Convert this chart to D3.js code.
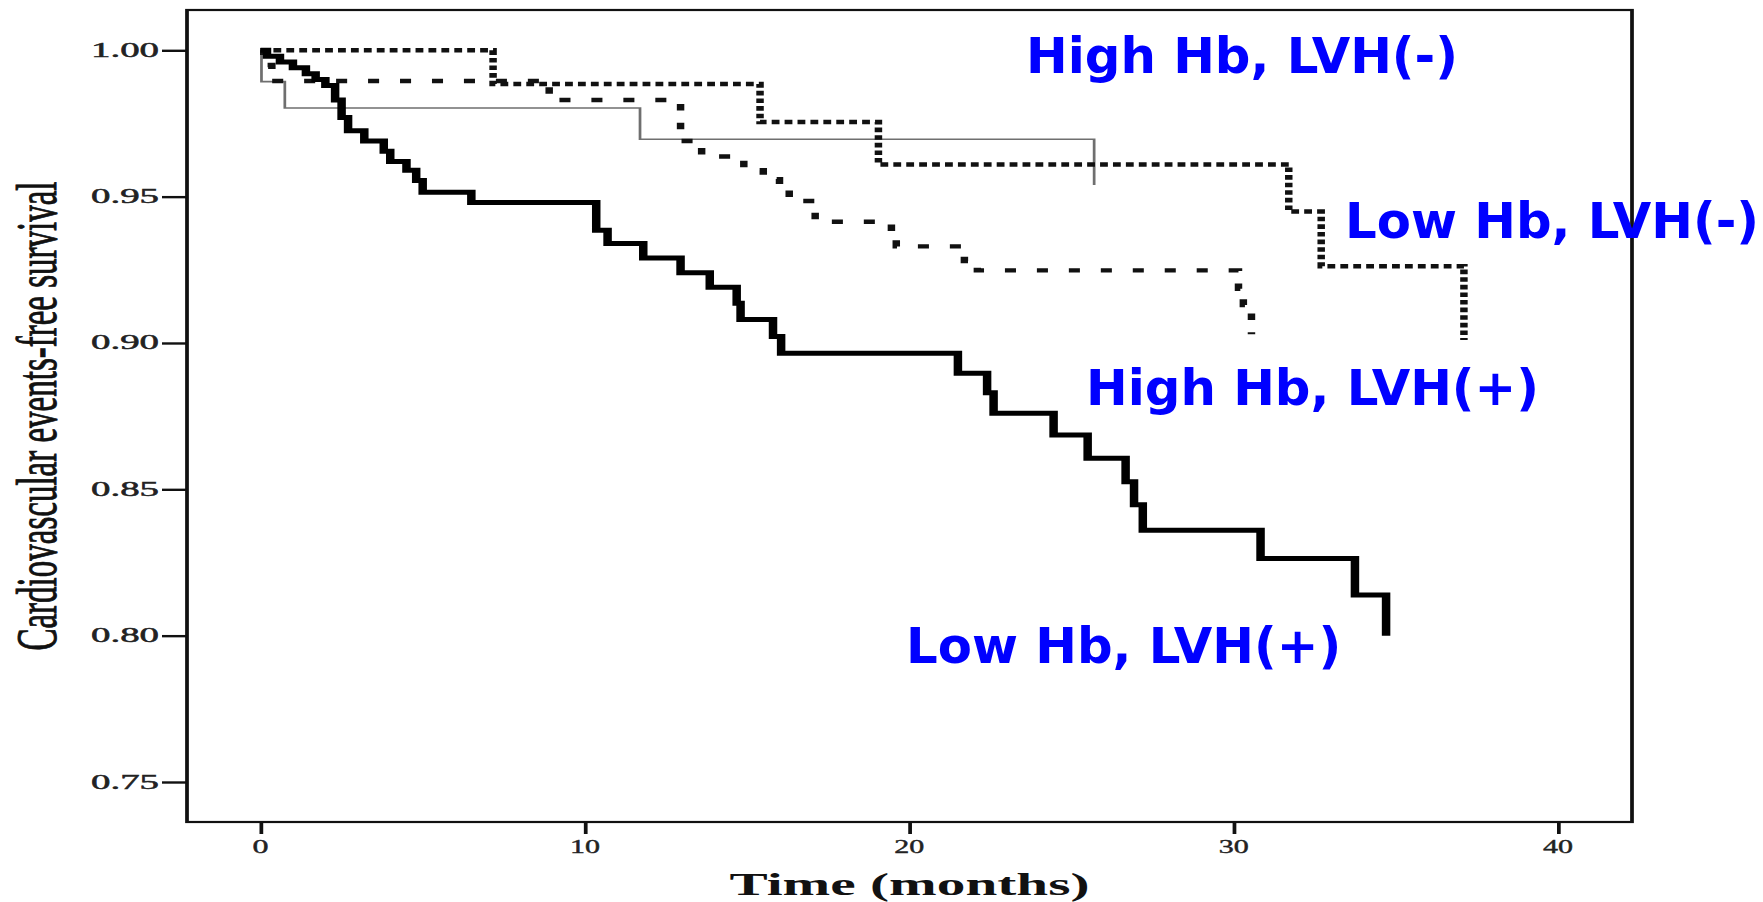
<!DOCTYPE html>
<html>
<head>
<meta charset="utf-8">
<script src="https://cdn.jsdelivr.net/npm/d3@7"></script>
<style>
  html, body { margin: 0; padding: 0; background: #fff; }
  svg { display: block; }
</style>
</head>
<body>
<svg id="chart" width="1763" height="902"></svg>
<script>
// Kaplan–Meier style survival curves: time (months) vs. event-free survival

const timeTicks = [0, 10, 20, 30, 40];
const survivalTicks = [0.75, 0.80, 0.85, 0.90, 0.95, 1.00];

// Low Hb, LVH(+)  — thick solid
const lowPosTime = [0, 0.2, 0.6, 1.0, 1.4, 1.7, 2.0, 2.3, 2.5, 2.7, 3.2, 3.8, 4.0, 4.5, 4.8, 5.0, 6.5,
  10.35, 10.7, 11.8, 12.95, 13.85, 14.68, 14.8, 15.8, 16.05, 21.5, 22.4, 22.6, 24.45, 25.5,
  26.67, 26.93, 27.2, 30.83, 33.74, 34.7];
const lowPosSurv = [1.0, 0.998, 0.996, 0.994, 0.992, 0.990, 0.988, 0.983, 0.977, 0.9725, 0.969, 0.9655, 0.962, 0.959, 0.9555, 0.9515, 0.948,
  0.9385, 0.934, 0.929, 0.924, 0.919, 0.9136, 0.908, 0.9022, 0.8965, 0.8897, 0.883, 0.876, 0.8686, 0.8606,
  0.8526, 0.8447, 0.836, 0.8264, 0.8139, 0.800];

// High Hb, LVH(+)  — sparse dashes
const highPosTime = [0, 0.1, 0.35, 8.9, 12.95, 13.6, 14.9, 15.5, 16.0, 16.3, 17.1, 19.45, 19.6, 21.7, 22.1, 30.15, 30.3, 30.55];
const highPosSurv = [1.0, 0.995, 0.9895, 0.983, 0.969, 0.9637, 0.959, 0.956, 0.953, 0.9485, 0.9414, 0.9375, 0.933, 0.928, 0.9248, 0.9185, 0.913, 0.903];

// Low Hb, LVH(-)  — dense dots
const lowNegTime = [0, 7.17, 15.4, 19.05, 31.7, 32.7, 37.1];
const lowNegSurv = [1.0, 0.9885, 0.9755, 0.961, 0.9449, 0.9262, 0.901];

// High Hb, LVH(-)  — thin grey
const highNegTime = [0, 0.03, 0.75, 11.7, 25.7];
const highNegSurv = [1.0, 0.9893, 0.9803, 0.9696, 0.954];

const seriesNames = ["Low Hb, LVH(+)", "High Hb, LVH(+)", "Low Hb, LVH(-)", "High Hb, LVH(-)"];

// ---------------------------------------------------------------------------
const svg = d3.select("#chart");
const SX = 1.7;                // horizontal stretch of the plotting graphics
const frame = { left: 187, right: 1632, top: 10, bottom: 822 };

const xFull = d3.scaleLinear().domain([0, 40]).range([260.5, 1558]);
const xLocal = d3.scaleLinear().domain([0, 40]).range([260.5 / SX, 1558 / SX]);
const y = d3.scaleLinear().domain([0.75, 1.00]).range([782, 50.3]);

const plot = svg.append("g").attr("transform", `scale(${SX},1)`);

// frame box
plot.append("rect")
  .attr("x", frame.left / SX).attr("y", frame.top)
  .attr("width", (frame.right - frame.left) / SX)
  .attr("height", frame.bottom - frame.top)
  .attr("fill", "none").attr("stroke", "#111").attr("stroke-width", 2.2);

// y axis ticks
const yAxis = d3.axisLeft(y).tickValues(survivalTicks).tickSize(25 / SX).tickFormat("");
const yAxisG = plot.append("g").attr("transform", `translate(${frame.left / SX},0)`).call(yAxis);
yAxisG.select(".domain").remove();
yAxisG.selectAll(".tick line").attr("stroke", "#111").attr("stroke-width", 2.4);

// x axis ticks
const xAxis = d3.axisBottom(xLocal).tickValues(timeTicks).tickSize(12).tickFormat("");
const xAxisG = plot.append("g").attr("transform", `translate(0,${frame.bottom})`).call(xAxis);
xAxisG.select(".domain").remove();
xAxisG.selectAll(".tick line").attr("stroke", "#111").attr("stroke-width", 2.2);

// tick labels
const fmt = d3.format(".2f");
svg.append("g").selectAll("text").data(survivalTicks).join("text")
  .attr("x", 91).attr("y", d => y(d) + 6.5)
  .attr("textLength", 68).attr("lengthAdjust", "spacingAndGlyphs")
  .attr("font-family", "Liberation Serif, serif").attr("font-size", 20)
  .attr("fill", "#222").attr("stroke", "#222").attr("stroke-width", 0.5)
  .text(d => fmt(d));

svg.append("g").selectAll("text").data(timeTicks).join("text")
  .attr("x", d => xFull(d)).attr("y", 853)
  .attr("text-anchor", "middle")
  .attr("textLength", d => String(d).length === 1 ? 16 : 30)
  .attr("lengthAdjust", "spacingAndGlyphs")
  .attr("font-family", "Liberation Serif, serif").attr("font-size", 19)
  .attr("fill", "#222").attr("stroke", "#222").attr("stroke-width", 0.4)
  .text(d => d);

// axis titles
svg.append("text")
  .attr("x", (frame.left + frame.right) / 2).attr("y", 895)
  .attr("text-anchor", "middle")
  .attr("textLength", 360).attr("lengthAdjust", "spacingAndGlyphs")
  .attr("font-family", "Liberation Serif, serif").attr("font-weight", "bold").attr("font-size", 32)
  .attr("fill", "#111")
  .text("Time (months)");

svg.append("text")
  .attr("transform", `translate(56,${(frame.top + frame.bottom) / 2}) rotate(-90) scale(1,${SX})`)
  .attr("text-anchor", "middle")
  .attr("font-family", "Liberation Serif, serif").attr("font-size", 33)
  .attr("fill", "#111").attr("stroke", "#111").attr("stroke-width", 0.6)
  .text("Cardiovascular events-free survival");

// survival curves
const series = [
  { name: seriesNames[3], t: highNegTime, s: highNegSurv, color: "#6f6f6f", width: 1.6, dash: null },
  { name: seriesNames[2], t: lowNegTime, s: lowNegSurv, color: "#111", width: 4.4, dash: "4.6,3" },
  { name: seriesNames[1], t: highPosTime, s: highPosSurv, color: "#111", width: 4.4, dash: "6.5,12.3" },
  { name: seriesNames[0], t: lowPosTime, s: lowPosSurv, color: "#000", width: 5, dash: null }
];

const line = d3.line()
  .x(d => xLocal(d[0]))
  .y(d => y(d[1]))
  .curve(d3.curveStepAfter);

plot.append("g").selectAll("path").data(series).join("path")
  .attr("d", d => line(d.t.map((t, i) => [t, d.s[i]])))
  .attr("fill", "none")
  .attr("stroke", d => d.color)
  .attr("stroke-width", d => d.width)
  .attr("stroke-dasharray", d => d.dash)
  .attr("stroke-linejoin", "miter");

// curve labels
const labels = [
  { text: seriesNames[3], x: 1026, y: 73 },
  { text: seriesNames[2], x: 1345, y: 238 },
  { text: seriesNames[1], x: 1086, y: 405 },
  { text: seriesNames[0], x: 906, y: 663 }
];
svg.append("g").selectAll("text").data(labels).join("text")
  .attr("x", d => d.x).attr("y", d => d.y)
  .attr("font-family", "DejaVu Sans, sans-serif").attr("font-weight", "bold").attr("font-size", 49.8)
  .attr("fill", "#0000ff")
  .text(d => d.text);
</script>
</body>
</html>
